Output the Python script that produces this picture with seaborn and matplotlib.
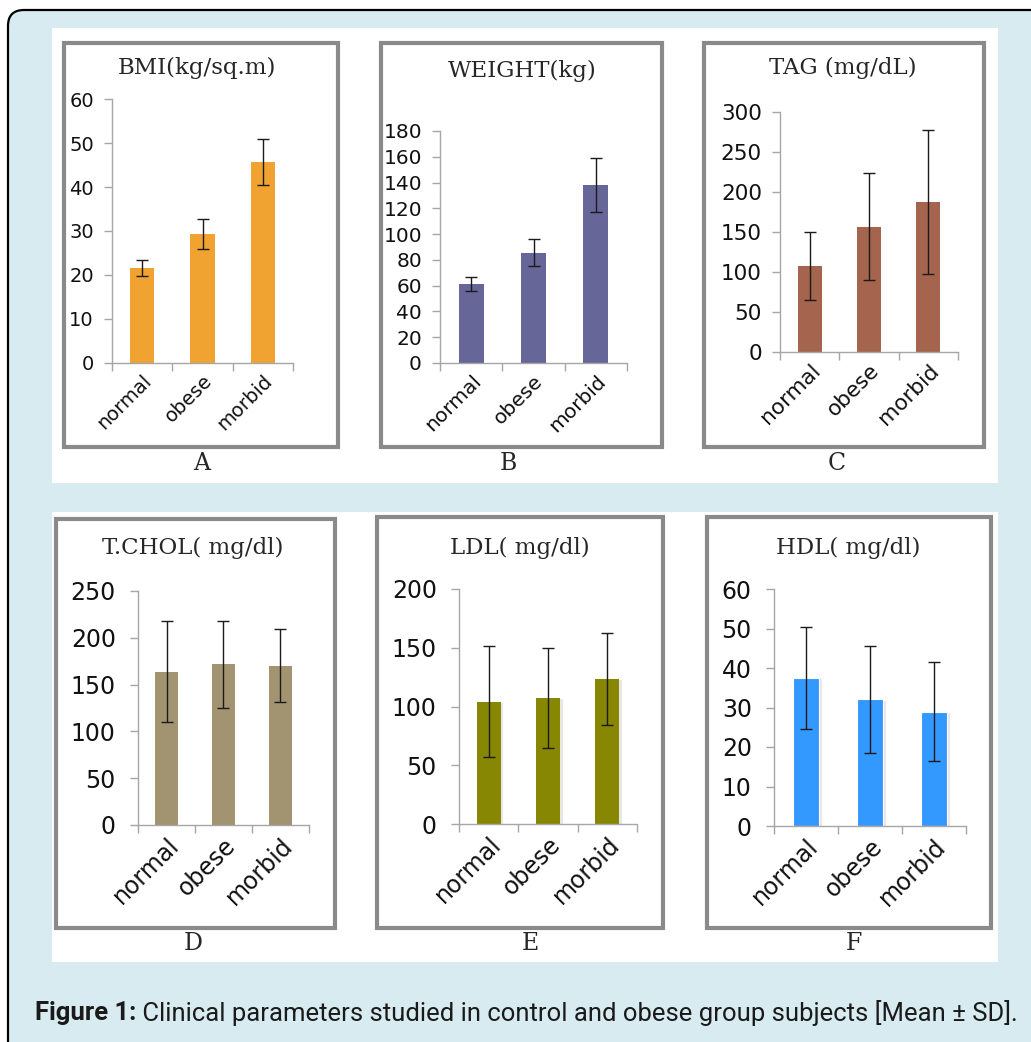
import numpy as np
import matplotlib
matplotlib.use("Agg")
import matplotlib.pyplot as plt
import matplotlib.patches as mpatches
import matplotlib.patheffects as pe
from matplotlib.ticker import FixedLocator
import seaborn as sns

# ---- data ----
groups = ["normal", "obese", "morbid"]

bmi_mean = [21.6, 29.4, 45.6]
bmi_sd = [1.9, 3.4, 5.2]
weight_mean = [61.2, 85.7, 138.2]
weight_sd = [5.7, 10.2, 21.2]
tag_mean = [107.8, 156.7, 187.2]
tag_sd = [42.4, 66.5, 90.0]
chol_mean = [163.8, 171.6, 169.9]
chol_sd = [54.0, 46.2, 39.0]
ldl_mean = [104.0, 107.4, 123.6]
ldl_sd = [47.2, 42.7, 39.0]
hdl_mean = [37.5, 32.1, 28.9]
hdl_sd = [12.9, 13.5, 12.5]

panel_titles = ["BMI(kg/sq.m)", "WEIGHT(kg)", "TAG (mg/dL)",
                "T.CHOL( mg/dl)", "LDL( mg/dl)", "HDL( mg/dl)"]
panel_letters = ["A", "B", "C", "D", "E", "F"]
y_max = [60, 180, 300, 250, 200, 60]
y_step = [10, 20, 50, 50, 50, 10]

caption_bold = "Figure 1:"
caption_rest = " Clinical parameters studied in control and obese group subjects [Mean \u00b1 SD]."

# ---- styling ----
W, H = 1031, 1042
BG_BLUE = "#d7ebf0"
BOX_GREY = "#8a8a8a"
AXIS_GREY = "#a6a6a6"
bar_colors = ["#f0a330", "#666699", "#a5644e", "#a39471", "#878704", "#3399ff"]

sns.set_style("white")
plt.rcParams["font.family"] = ["DejaVu Sans"]


def fx(x):
    return x / W


def fy(y):
    return 1 - y / H


def draw_panel(*, fig, means, sds, title, letter, color, ymax, ystep,
               box, axes_px, title_xy, letter_xy, tick_size, pad,
               shadow=False, edge=None):
    """Draw one boxed bar chart with SD error bars."""
    bx0, by0, bx1, by1 = box
    fig.patches.append(mpatches.Rectangle(
        (fx(bx0), fy(by1)), (bx1 - bx0) / W, (by1 - by0) / H,
        transform=fig.transFigure, facecolor="white", edgecolor=BOX_GREY,
        linewidth=3, zorder=-1))

    x0, y0, x1, y1 = axes_px
    ax = fig.add_axes([fx(x0), fy(y1), (x1 - x0) / W, (y1 - y0) / H])
    ax.set_facecolor("none")

    sns.barplot(x=groups, y=means, color=color, saturation=1, width=0.4,
                ax=ax, errorbar=None,
                edgecolor=edge if edge else color, linewidth=0.8 if edge else 0)
    ax.errorbar(ax.get_xticks(), means, yerr=sds, fmt="none",
                ecolor="#1a1a1a", elinewidth=1, capsize=4, capthick=1, zorder=5)

    if shadow:
        for bar in ax.patches:
            bar.set_path_effects([
                pe.SimplePatchShadow(offset=(2, -1), shadow_rgbFace="#7a5a5a",
                                     alpha=0.15),
                pe.Normal()])

    ax.set_ylim(0, ymax)
    ax.set_yticks(np.arange(0, ymax + 1, ystep))
    ax.set_xlim(-0.5, len(groups) - 0.5)
    ax.xaxis.set_minor_locator(FixedLocator(np.arange(-0.5, len(groups), 1)))
    ax.set_xlabel("")
    ax.set_ylabel("")

    ax.tick_params(axis="x", which="major", length=0, pad=6,
                   labelsize=tick_size, labelcolor="#111111")
    ax.tick_params(axis="x", which="minor", length=6, width=1,
                   color=AXIS_GREY, bottom=True)
    ax.tick_params(axis="y", length=6, width=1, color=AXIS_GREY, pad=pad,
                   left=True, labelsize=tick_size, labelcolor="#111111")
    for lab in ax.get_xticklabels():
        lab.set_rotation(45)
        lab.set_ha("right")
        lab.set_va("top")
        lab.set_rotation_mode("anchor")

    sns.despine(ax=ax)
    for side in ["left", "bottom"]:
        ax.spines[side].set_color(AXIS_GREY)
        ax.spines[side].set_linewidth(1)

    fig.text(fx(title_xy[0]), fy(title_xy[1]), title, ha="center",
             va="center", fontsize=16.5, family="DejaVu Serif")
    fig.text(fx(letter_xy[0]), fy(letter_xy[1]), letter, ha="center",
             va="center", fontsize=17, family="DejaVu Serif")
    return ax


fig = plt.figure(figsize=(W / 100, H / 100), dpi=100)
fig.patch.set_facecolor("white")

# outer rounded frame, light blue
fig.patches.append(mpatches.FancyBboxPatch(
    (0.08, -0.5), 11.0, (H - 10) / 100 + 0.5,
    boxstyle="round,pad=0,rounding_size=0.16",
    transform=fig.dpi_scale_trans, facecolor=BG_BLUE, edgecolor="black",
    linewidth=1.6, zorder=-3))
# white strips behind each row
for (x0, y0, x1, y1) in [(52, 28, 998, 483), (52, 512, 998, 962)]:
    fig.patches.append(mpatches.Rectangle(
        (fx(x0), fy(y1)), (x1 - x0) / W, (y1 - y0) / H,
        transform=fig.transFigure, facecolor="white", edgecolor="none",
        zorder=-2))

series = [(bmi_mean, bmi_sd), (weight_mean, weight_sd), (tag_mean, tag_sd),
          (chol_mean, chol_sd), (ldl_mean, ldl_sd), (hdl_mean, hdl_sd)]

layout = [
    dict(box=(64, 43, 338, 447), axes_px=(112, 99, 293, 363),
         title_xy=(197, 68), letter_xy=(202, 463), tick_size=14, pad=7),
    dict(box=(381, 43, 662, 447), axes_px=(440, 131, 627, 363),
         title_xy=(522, 71), letter_xy=(508, 463), tick_size=14.5, pad=7),
    dict(box=(704, 43, 984, 447), axes_px=(780, 112, 958, 352),
         title_xy=(843, 68), letter_xy=(837, 463), tick_size=15.5, pad=7),
    dict(box=(56, 519, 335, 928), axes_px=(138, 591, 309, 825),
         title_xy=(193, 548), letter_xy=(193, 943), tick_size=17, pad=10),
    dict(box=(377, 517, 663, 928), axes_px=(459, 589, 637, 824),
         title_xy=(520, 548), letter_xy=(530, 943), tick_size=17, pad=10),
    dict(box=(707, 517, 991, 928), axes_px=(774, 589, 966, 826),
         title_xy=(848, 548), letter_xy=(854, 943), tick_size=17, pad=10),
]

for i, ((m, s), lay) in enumerate(zip(series, layout)):
    draw_panel(fig=fig, means=m, sds=s, title=panel_titles[i],
               letter=panel_letters[i], color=bar_colors[i], ymax=y_max[i],
               ystep=y_step[i], shadow=(i >= 4),
               edge="white" if i == 5 else None, **lay)

# caption: bold lead-in followed by plain text, sized to span the frame
cap_font = ["Roboto", "DejaVu Sans"]
cap_x0, cap_x1, cap_y = 35, 1015, 1013
size = 17
t1 = fig.text(fx(cap_x0), fy(cap_y), caption_bold, ha="left", va="center",
              fontsize=size, fontweight="bold", family=cap_font,
              color="#1a1a1a")
t2 = fig.text(0, fy(cap_y), caption_rest, ha="left", va="center",
              fontsize=size, family=cap_font, color="#1a1a1a")
fig.canvas.draw()
r = fig.canvas.get_renderer()
total = t1.get_window_extent(r).width + t2.get_window_extent(r).width
size = size * (cap_x1 - cap_x0) / total
t1.set_fontsize(size)
t2.set_fontsize(size)
fig.canvas.draw()
t2.set_x(t1.get_window_extent(r).x1 / W)

fig.savefig("out.png", dpi=100, facecolor=fig.get_facecolor())
